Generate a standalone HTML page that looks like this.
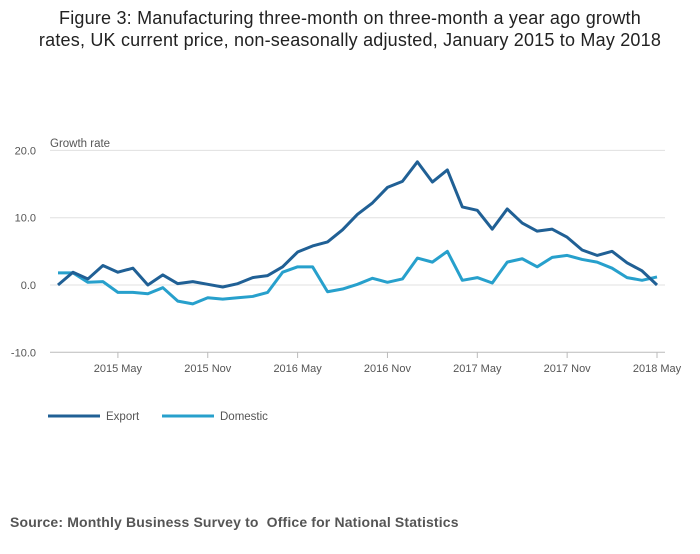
<!DOCTYPE html>
<html><head><meta charset="utf-8"><style>
body{margin:0;background:#fff;font-family:"Liberation Sans",sans-serif;}
</style></head><body>
<svg width="700" height="549" xmlns="http://www.w3.org/2000/svg">
<text x="350" y="24" text-anchor="middle" font-size="18" letter-spacing="0.2" fill="#222">Figure 3: Manufacturing three-month on three-month a year ago growth</text>
<text x="350" y="46" text-anchor="middle" font-size="18" letter-spacing="0.2" fill="#222">rates, UK current price, non-seasonally adjusted, January 2015 to May 2018</text>
<text x="50" y="147" font-size="11.5" fill="#555">Growth rate</text>
<g id="grid"></g><g id="xax"></g><g id="lines"></g>
<g>
<line x1="48" y1="416" x2="100" y2="416" stroke="#206095" stroke-width="3"/>
<text x="106" y="420" font-size="11.5" fill="#555">Export</text>
<line x1="162" y1="416" x2="214" y2="416" stroke="#27a0cc" stroke-width="3"/>
<text x="220" y="420" font-size="11.5" fill="#555">Domestic</text>
</g>
<text x="10" y="527" font-size="14" letter-spacing="0.15" font-weight="bold" fill="#555">Source: Monthly Business Survey to&#160; Office for National Statistics</text>
</svg>
<script>
const yTicks=[20,10,0,-10];
const yTickLabels=["20.0","10.0","0.0","-10.0"];
const xTickIdx=[4,10,16,22,28,34,40];
const xTickLabels=["2015 May","2015 Nov","2016 May","2016 Nov","2017 May","2017 Nov","2018 May"];
const exportVals=[0,1.9,0.9,2.9,1.9,2.5,0,1.5,0.2,0.5,0.1,-0.3,0.2,1.1,1.4,2.7,4.9,5.8,6.4,8.2,10.5,12.2,14.5,15.4,18.3,15.3,17.1,11.6,11.1,8.3,11.3,9.2,8.0,8.3,7.1,5.2,4.4,5.0,3.3,2.1,0];
const domesticVals=[1.8,1.8,0.4,0.5,-1.1,-1.1,-1.3,-0.4,-2.4,-2.8,-1.9,-2.1,-1.9,-1.7,-1.1,1.9,2.7,2.7,-1.0,-0.6,0.1,1.0,0.4,0.9,4.0,3.4,5.0,0.7,1.1,0.3,3.4,3.9,2.7,4.1,4.4,3.8,3.4,2.5,1.1,0.7,1.2];
const NS="http://www.w3.org/2000/svg";
const xS=i=>58+i*(657-58)/40;
const yS=v=>285-v*6.73;
const grid=document.getElementById('grid');
yTicks.forEach((t,k)=>{
 const l=document.createElementNS(NS,'line');
 l.setAttribute('x1',50);l.setAttribute('x2',665);l.setAttribute('y1',yS(t));l.setAttribute('y2',yS(t));
 l.setAttribute('stroke',t===-10?'#bbb':'#e0e0e0');l.setAttribute('stroke-width',1);
 
 
 grid.appendChild(l);
 const tx=document.createElementNS(NS,'text');
 tx.setAttribute('x',36);tx.setAttribute('y',yS(t)+4);tx.setAttribute('text-anchor','end');
 tx.setAttribute('font-size','11');tx.setAttribute('fill','#555');tx.textContent=yTickLabels[k];
 
 
 grid.appendChild(tx);
});
const xax=document.getElementById('xax');
xTickIdx.forEach((i,k)=>{
 const l=document.createElementNS(NS,'line');
 l.setAttribute('x1',xS(i));l.setAttribute('x2',xS(i));l.setAttribute('y1',352);l.setAttribute('y2',358);
 l.setAttribute('stroke','#bbb');
 
 
 xax.appendChild(l);
 const tx=document.createElementNS(NS,'text');
 tx.setAttribute('x',xS(i));tx.setAttribute('y',372);tx.setAttribute('text-anchor','middle');
 tx.setAttribute('font-size','11');tx.setAttribute('fill','#555');tx.textContent=xTickLabels[k];
 
 
 xax.appendChild(tx);
});
const lines=document.getElementById('lines');
[[domesticVals,'#27a0cc','domestic-line'],[exportVals,'#206095','export-line']].forEach(([vals,c,n])=>{
 const p=document.createElementNS(NS,'polyline');
 p.setAttribute('points',vals.map((v,i)=>xS(i)+','+yS(v)).join(' '));
 p.setAttribute('fill','none');p.setAttribute('stroke',c);p.setAttribute('stroke-width',3);
 p.setAttribute('stroke-linejoin','round');
 
 
 lines.appendChild(p);
});
</script>
</body></html>
